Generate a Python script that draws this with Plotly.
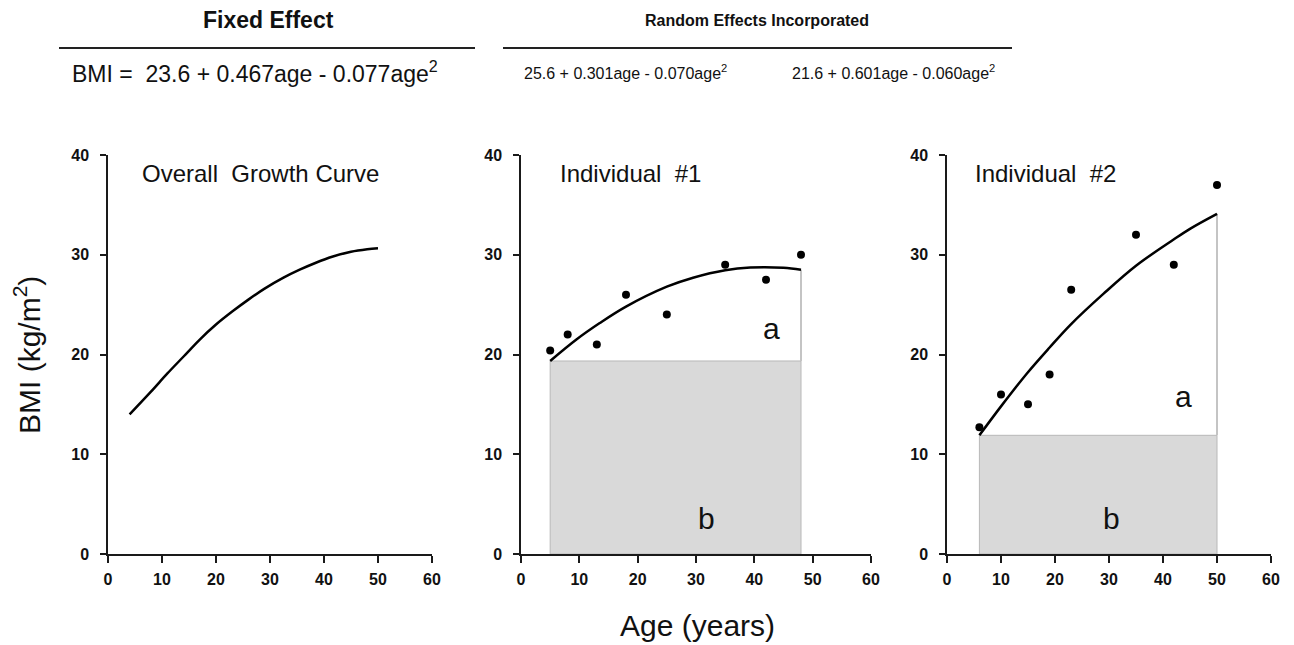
import plotly.graph_objects as go

# page has an 8px body margin; figure is sized to fit the 1294x645 window
OFF = 8
W, H = 1294 - OFF, 645 - OFF

# ---------------- data ----------------
fixed_age = [4, 8, 11, 14, 17, 20, 23, 26, 29, 32.5, 35.5, 38.5, 41.5, 45, 48, 50]
fixed_bmi = [14.0, 16.3, 18.1, 19.8, 21.5, 23.0, 24.3, 25.5, 26.6, 27.7, 28.5, 29.2, 29.8, 30.3, 30.55, 30.65]

ind1_obs_age = [5, 8, 13, 18, 25, 35, 42, 48]
ind1_obs_bmi = [20.4, 22.0, 21.0, 26.0, 24.0, 29.0, 27.5, 30.0]
ind1_fit_age = [5, 9.5, 13.5, 18, 25, 29.5, 35, 39.3, 45, 48]
ind1_fit_bmi = [19.35, 21.5, 23.15, 24.8, 26.8, 27.7, 28.45, 28.72, 28.7, 28.5]

ind2_obs_age = [6, 10, 15, 19, 23, 35, 42, 50]
ind2_obs_bmi = [12.7, 16.0, 15.0, 18.0, 26.5, 32.0, 29.0, 37.0]
ind2_fit_age = [6, 10, 14.8, 19, 22.9, 29, 35, 41.9, 45, 50]
ind2_fit_bmi = [11.9, 14.8, 18.1, 20.7, 23.0, 26.1, 28.9, 31.5, 32.6, 34.1]

x_ticks = [0, 10, 20, 30, 40, 50, 60]
y_ticks = [0, 10, 20, 30, 40]

# ---------------- helpers (page pixel -> paper) ----------------
def px(x):
    return (x - OFF) / W

def py(y):
    return 1 - (y - OFF) / H

FONT = "Liberation Sans, Arial, sans-serif"
AX = "#1a1a1a"

fig = go.Figure()

# shaded areas (b) and boundary of (a), from the fitted curves
for xr, yr, fa, fb in [("x2", "y2", ind1_fit_age, ind1_fit_bmi), ("x3", "y3", ind2_fit_age, ind2_fit_bmi)]:
    fig.add_shape(type="rect", xref=xr, yref=yr, x0=fa[0], x1=fa[-1], y0=0, y1=fb[0],
                  fillcolor="#d9d9d9", line=dict(color="#b8b8b8", width=1), layer="below")
    fig.add_shape(type="line", xref=xr, yref=yr, x0=fa[-1], x1=fa[-1], y0=fb[0], y1=fb[-1],
                  line=dict(color="#c4c4c4", width=2), layer="below")

fig.add_trace(go.Scatter(x=fixed_age, y=fixed_bmi, mode="lines", line=dict(color="black", width=2.5, shape="spline"),
                         xaxis="x", yaxis="y", showlegend=False))
fig.add_trace(go.Scatter(x=ind1_fit_age, y=ind1_fit_bmi, mode="lines", line=dict(color="black", width=2.5, shape="spline"),
                         xaxis="x2", yaxis="y2", showlegend=False))
fig.add_trace(go.Scatter(x=ind1_obs_age, y=ind1_obs_bmi, mode="markers", marker=dict(color="black", size=8),
                         xaxis="x2", yaxis="y2", showlegend=False))
fig.add_trace(go.Scatter(x=ind2_fit_age, y=ind2_fit_bmi, mode="lines", line=dict(color="black", width=2.5, shape="spline"),
                         xaxis="x3", yaxis="y3", showlegend=False))
fig.add_trace(go.Scatter(x=ind2_obs_age, y=ind2_obs_bmi, mode="markers", marker=dict(color="black", size=8),
                         xaxis="x3", yaxis="y3", showlegend=False))

xdoms = [(108, 432), (521, 871), (947, 1271)]
ydom = [py(554), py(155)]

def xaxis(dom, anchor):
    return dict(domain=[px(dom[0]), px(dom[1])], range=[0, 60], anchor=anchor,
                tickvals=x_ticks, ticks="outside", ticklen=7, tickwidth=1.5, tickcolor=AX,
                showline=True, linecolor=AX, linewidth=1.5, showgrid=False, zeroline=False,
                tickfont=dict(family=FONT, size=16, color="#111", weight="bold"), automargin=False,
                ticklabelstandoff=3, fixedrange=True)

def yaxis(anchor):
    return dict(domain=ydom, range=[0, 40], anchor=anchor,
                tickvals=y_ticks, ticks="outside", ticklen=6, tickwidth=1.5, tickcolor=AX,
                showline=True, linecolor=AX, linewidth=1.5, showgrid=False, zeroline=False,
                tickfont=dict(family=FONT, size=16, color="#111", weight="bold"), automargin=False,
                ticklabelstandoff=8, fixedrange=True)

annotations = []

def txt(text, x, y, size, bold=False, angle=0):
    annotations.append(dict(text=text, x=px(x), y=py(y), xref="paper", yref="paper",
                            showarrow=False, xanchor="center", yanchor="middle", textangle=angle,
                            font=dict(family=FONT, size=size, color="#111", weight="bold" if bold else "normal")))

NB = "\u00a0"
txt("Fixed Effect", 268, 20, 23, bold=True)
txt("Random Effects Incorporated", 757, 20, 16, bold=True)
txt("BMI =" + NB + NB + "23.6 + 0.467age - 0.077age<sup>2</sup>", 255, 72, 23)
txt("25.6 + 0.301age - 0.070age<sup>2</sup>", 625, 72, 16)
txt("21.6 + 0.601age - 0.060age<sup>2</sup>", 893, 72, 16)

txt("Overall" + NB + NB + "Growth" + NB + "Curve", 260, 173, 24)
txt("Individual" + NB + NB + "#1", 630, 173, 24)
txt("Individual" + NB + NB + "#2", 1045, 173, 24)
txt("a", 771, 328, 30)
txt("b", 706, 518, 30)
txt("a", 1183, 396, 30)
txt("b", 1111, 518, 30)

txt("BMI (kg/m<sup>2</sup>)", 27, 355, 30, angle=-90)
txt("Age (years)", 697, 625, 30)

for x0, x1 in [(59, 475), (503, 1012)]:
    fig.add_shape(type="line", xref="paper", yref="paper", x0=px(x0), x1=px(x1), y0=py(48), y1=py(48),
                  line=dict(color="#222", width=2))

fig.update_layout(
    width=W, height=H, template="none",
    paper_bgcolor="white", plot_bgcolor="white",
    margin=dict(l=0, r=0, t=0, b=0),
    xaxis=xaxis(xdoms[0], "y"), yaxis=yaxis("x"),
    xaxis2=xaxis(xdoms[1], "y2"), yaxis2=yaxis("x2"),
    xaxis3=xaxis(xdoms[2], "y3"), yaxis3=yaxis("x3"),
    annotations=annotations,
    showlegend=False,
)

fig.write_html("out.html")
